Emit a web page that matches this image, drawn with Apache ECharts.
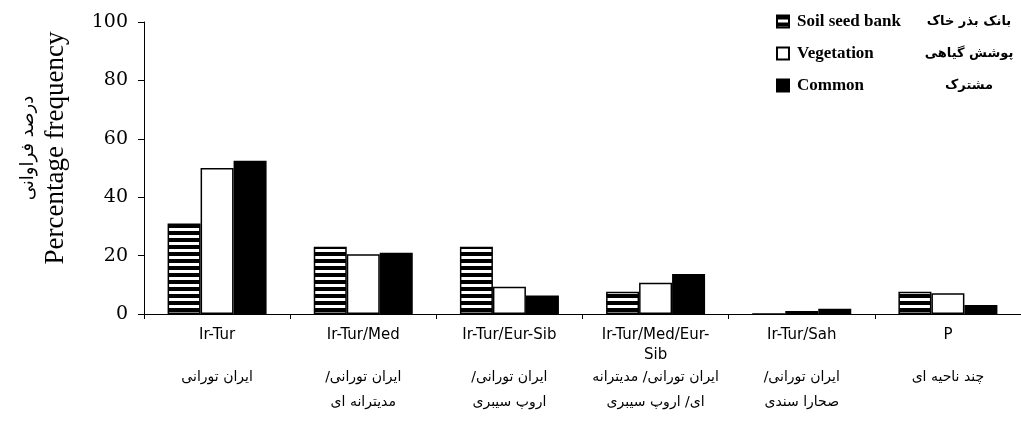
<!DOCTYPE html>
<html>
<head>
<meta charset="utf-8">
<script src="https://cdn.jsdelivr.net/npm/echarts@6/dist/echarts.min.js"></script>
<style>
  html, body { margin: 0; padding: 0; background: #fff; }
  #chart { width: 1021px; height: 426px; }
</style>
</head>
<body>
<div id="chart"></div>
<script>
const categories = ['Ir-Tur', 'Ir-Tur/Med', 'Ir-Tur/Eur-Sib', 'Ir-Tur/Med/Eur-Sib', 'Ir-Tur/Sah', 'P']
const categoryLinesEn = [['Ir-Tur'], ['Ir-Tur/Med'], ['Ir-Tur/Eur-Sib'], ['Ir-Tur/Med/Eur-', 'Sib'], ['Ir-Tur/Sah'], ['P']]
const categoryLinesFa = [
  ['ایران تورانی'],
  ['ایران تورانی/', 'مدیترانه ای'],
  ['ایران تورانی/', 'اروپ سیبری'],
  ['ایران تورانی/ مدیترانه', 'ای/ اروپ سیبری'],
  ['ایران تورانی/', 'صحارا سندی'],
  ['چند ناحیه ای']
]
const seriesNames = ['Soil seed bank', 'Vegetation', 'Common']
const seriesNamesFa = ['بانک بذر خاک', 'پوشش گیاهی', 'مشترک']
const soilSeedBank = [31, 23, 23, 7.6, 0, 7.6]
const vegetation = [50, 20.5, 9.3, 10.7, 1, 7.1]
const common = [52.5, 21, 6.3, 13.7, 1.8, 3.1]
const yTicks = { min: 0, max: 100, interval: 20 }

const RLM = '\u200F'

// horizontal stripe fill for the soil seed bank bars
function stripes() {
  const c = document.createElement('canvas')
  c.width = 4; c.height = 7
  const ctx = c.getContext('2d')
  ctx.fillStyle = '#fff'; ctx.fillRect(0, 0, 4, 7)
  ctx.fillStyle = '#000'; ctx.fillRect(0, 0, 4, 4)
  return c
}

const chart = echarts.init(document.getElementById('chart'))

const styles = [
  { color: { image: stripes(), repeat: 'repeat' }, borderColor: '#000', borderWidth: 1.5 },
  { color: '#fff', borderColor: '#000', borderWidth: 1.5 },
  { color: '#000', borderColor: '#000', borderWidth: 1.5 }
]
const values = [soilSeedBank, vegetation, common]

chart.setOption({
  animation: false,
  backgroundColor: '#fff',
  grid: { left: 144, right: -10, top: 22, bottom: 112 },
  legend: {
    orient: 'vertical', left: 771, top: 8,
    icon: 'rect',
    itemWidth: 12, itemHeight: 12, itemGap: 15,
    data: seriesNames,
    formatter: name => `{en|${name}}{fa|${RLM}${seriesNamesFa[seriesNames.indexOf(name)]}${RLM}}`,
    textStyle: {
      rich: {
        en: { fontFamily: 'Liberation Serif', fontWeight: 'bold', fontSize: 17, color: '#000', width: 127, lineHeight: 20, padding: [0, 0, 0, 3] },
        fa: { fontFamily: 'DejaVu Sans', fontWeight: 'bold', fontSize: 13, color: '#000', width: 90, align: 'center', lineHeight: 20 }
      }
    }
  },
  xAxis: {
    type: 'category', data: categories,
    axisLine: { lineStyle: { color: '#000', width: 1 } },
    axisTick: { show: true, length: 5, lineStyle: { color: '#000' } },
    axisLabel: {
      interval: 0, margin: 11,
      formatter: (v, i) => {
        const en = categoryLinesEn[i].slice()
        while (en.length < 2) en.push(' ')
        return en.map(t => `{en|${t}}`).concat(categoryLinesFa[i].map(t => `{fa|${RLM}${t}${RLM}}`)).join('\n')
      },
      rich: {
        en: { fontFamily: 'DejaVu Sans', fontSize: 15, color: '#000', lineHeight: 20 },
        fa: { fontFamily: 'DejaVu Sans', fontSize: 14, color: '#000', lineHeight: 25 }
      }
    },
    splitLine: { show: false }
  },
  yAxis: {
    type: 'value', min: yTicks.min, max: yTicks.max, interval: yTicks.interval,
    axisLine: { show: true, lineStyle: { color: '#000', width: 1 } },
    axisTick: { show: true, length: 6, lineStyle: { color: '#000' } },
    axisLabel: { fontFamily: 'DejaVu Serif', fontSize: 19, color: '#000', margin: 16 },
    splitLine: { show: false }
  },
  graphic: [
    {
      type: 'text', x: 28, y: 148, rotation: Math.PI / 2,
      style: { text: 'درصد فراوانی', font: '18px "DejaVu Sans"', fill: '#000', align: 'center', verticalAlign: 'middle' }
    },
    {
      type: 'text', x: 56, y: 148, rotation: Math.PI / 2,
      style: { text: 'Percentage frequency', font: '27px "Liberation Serif"', fill: '#000', align: 'center', verticalAlign: 'middle' }
    }
  ],
  series: seriesNames.map((name, i) => ({
    name, type: 'bar', data: values[i],
    barWidth: 33, barGap: '0%',
    itemStyle: styles[i]
  }))
})
</script>
</body>
</html>
